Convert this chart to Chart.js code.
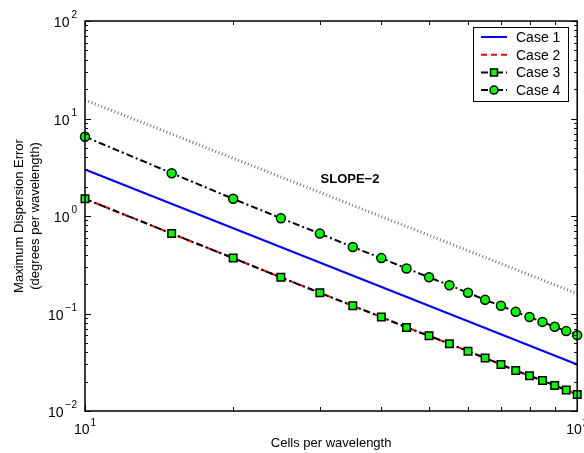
<!DOCTYPE html>
<html lang="en">
<head>
  <meta charset="UTF-8">
  <title>Dispersion Error</title>
  <style>
    body { margin: 0; padding: 0; background-color: #fff; }
    #chart { display: block; }
  </style>
</head>
<body>
  <canvas id="chart" width="584" height="453"></canvas>

  <script src="https://cdn.jsdelivr.net/npm/chart.js"></script>
  <script>
    // Cells per wavelength (x) and error values (y)
    const cells = [10, 15, 20, 25, 30, 35, 40, 45, 50, 55, 60, 65, 70, 75, 80, 85, 90, 95, 100];
    const case1X = [10, 100];
    const case1Y = [3.0, 0.030];
    const case2Y = [1.5, 0.66, 0.37, 0.235, 0.163, 0.12, 0.092, 0.072, 0.059, 0.049, 0.041, 0.035, 0.030, 0.026, 0.023, 0.0205, 0.0183, 0.0164, 0.0148];
    const case3Y = [1.5, 0.66, 0.37, 0.235, 0.163, 0.12, 0.092, 0.072, 0.059, 0.049, 0.041, 0.035, 0.030, 0.026, 0.023, 0.0205, 0.0183, 0.0164, 0.0148];
    const case4Y = [6.5, 2.75, 1.5, 0.95, 0.66, 0.48, 0.37, 0.29, 0.235, 0.195, 0.163, 0.138, 0.12, 0.104, 0.092, 0.082, 0.073, 0.066, 0.060];
    const slopeX = [10, 100];
    const slopeY = [15.5, 0.16];

    const yTicks = [0.01, 0.1, 1, 10, 100];
    const yTickExp = ['\u22122', '\u22121', '0', '1', '2'];
    const xTicks = [10, 100];
    const xTickExp = ['1', '2'];

    const FONT = '"Liberation Sans", Arial, Helvetica, sans-serif';
    const GREEN = '#00ff00';

    function pts(xs, ys) {
      return xs.map((x, i) => ({ x: x, y: ys[i] }));
    }

    const legendItems = [
      { label: 'Case 1', color: '#0000ff', dash: [], marker: null },
      { label: 'Case 2', color: '#ff0000', dash: [6, 4], marker: null },
      { label: 'Case 3', color: '#000000', dash: [7, 3, 2, 3], marker: 'rect' },
      { label: 'Case 4', color: '#000000', dash: [7, 3, 2, 3], marker: 'circle' }
    ];

    // draws the box, inward ticks, tick labels, axis titles, annotation and legend
    const matlabAxes = {
      id: 'matlabAxes',
      afterDraw(chart) {
        const ctx = chart.ctx;
        const a = chart.chartArea;
        const xs = chart.scales.x;
        const ys = chart.scales.y;
        ctx.save();
        ctx.strokeStyle = '#000';
        ctx.lineWidth = 1;
        ctx.setLineDash([]);

        // y ticks (major + minor) on left and right
        ctx.beginPath();
        for (let d = 0; d < yTicks.length; d++) {
          const base = yTicks[d];
          for (let m = 1; m <= 9; m++) {
            const v = base * m;
            if (v > 100.0001) break;
            const py = Math.round(ys.getPixelForValue(v)) + 0.5;
            const len = m === 1 ? 6 : 3;
            ctx.moveTo(a.left, py); ctx.lineTo(a.left + len, py);
            ctx.moveTo(a.right, py); ctx.lineTo(a.right - len, py);
          }
        }
        // x ticks
        for (let m = 1; m <= 10; m++) {
          const px = Math.round(xs.getPixelForValue(10 * m)) + 0.5;
          const len = (m === 1 || m === 10) ? 6 : 4;
          ctx.moveTo(px, a.bottom); ctx.lineTo(px, a.bottom - len);
          ctx.moveTo(px, a.top); ctx.lineTo(px, a.top + len);
        }
        ctx.stroke();

        // box
        ctx.lineWidth = 1.5;
        ctx.strokeRect(a.left, a.top, a.right - a.left, a.bottom - a.top);

        // y tick labels
        ctx.fillStyle = '#000';
        ctx.textBaseline = 'alphabetic';
        ctx.textAlign = 'left';
        yTicks.forEach((v, i) => {
          const py = ys.getPixelForValue(v);
          ctx.font = '10px ' + FONT;
          const ew = ctx.measureText(yTickExp[i]).width;
          ctx.font = '14px ' + FONT;
          const bw = ctx.measureText('10').width;
          const right = a.left - 8;
          ctx.fillText('10', right - ew - 2 - bw, py + 6);
          ctx.font = '10px ' + FONT;
          ctx.fillText(yTickExp[i], right - ew, py - 3);
        });

        // x tick labels
        xTicks.forEach((v, i) => {
          const px = xs.getPixelForValue(v);
          ctx.font = '10px ' + FONT;
          const ew = ctx.measureText(xTickExp[i]).width;
          ctx.font = '14px ' + FONT;
          const bw = ctx.measureText('10').width;
          const left = px - (bw + ew + 1) / 2;
          ctx.fillText('10', left, a.bottom + 23);
          ctx.font = '10px ' + FONT;
          ctx.fillText(xTickExp[i], left + bw + 1, a.bottom + 15);
        });

        // axis titles
        ctx.font = '13px ' + FONT;
        ctx.textAlign = 'center';
        ctx.fillText('Cells per wavelength', (a.left + a.right) / 2, a.bottom + 36);
        ctx.save();
        ctx.translate(23, (a.top + a.bottom) / 2);
        ctx.rotate(-Math.PI / 2);
        ctx.fillText('Maximum Dispersion Error', 0, 0);
        ctx.fillText('(degrees per wavelength)', 0, 16);
        ctx.restore();

        // annotation
        ctx.font = 'bold 13px ' + FONT;
        ctx.textAlign = 'center';
        ctx.fillText('SLOPE\u22122', 350, 183);

        // legend
        const lx = 473, ly = 27, lw = 95, lh = 74;
        ctx.fillStyle = '#fff';
        ctx.fillRect(lx, ly, lw, lh);
        ctx.lineWidth = 1;
        ctx.strokeStyle = '#000';
        ctx.strokeRect(lx + 0.5, ly + 0.5, lw, lh);
        legendItems.forEach((it, i) => {
          const cy = ly + 10 + i * 17.7;
          ctx.strokeStyle = it.color;
          ctx.lineWidth = 2;
          ctx.setLineDash(it.dash);
          ctx.beginPath();
          ctx.moveTo(lx + 8, cy);
          ctx.lineTo(lx + 34, cy);
          ctx.stroke();
          ctx.setLineDash([]);
          if (it.marker) {
            ctx.fillStyle = GREEN;
            ctx.strokeStyle = '#000';
            ctx.lineWidth = 1.5;
            ctx.beginPath();
            if (it.marker === 'rect') ctx.rect(lx + 21 - 3.5, cy - 3.5, 7, 7);
            else ctx.arc(lx + 21, cy, 4, 0, Math.PI * 2);
            ctx.fill();
            ctx.stroke();
          }
          ctx.fillStyle = '#000';
          ctx.font = '14px ' + FONT;
          ctx.textAlign = 'left';
          ctx.fillText(it.label, lx + 43, cy + 5);
        });
        ctx.restore();
      }
    };

    new Chart(document.getElementById('chart'), {
      type: 'line',
      data: {
        datasets: [
          {
            label: 'Case 4', data: pts(cells, case4Y), order: 0,
            borderColor: '#000', borderWidth: 2, borderDash: [7, 3, 2, 3],
            pointStyle: 'circle', pointRadius: 4.5, pointBackgroundColor: GREEN,
            pointBorderColor: '#000', pointBorderWidth: 1.5
          },
          {
            label: 'Case 3', data: pts(cells, case3Y), order: 1,
            borderColor: '#000', borderWidth: 2, borderDash: [7, 3, 2, 3],
            pointStyle: 'rect', pointRadius: 5.3, pointBackgroundColor: GREEN,
            pointBorderColor: '#000', pointBorderWidth: 1.5
          },
          {
            label: 'Case 2', data: pts(cells, case2Y), order: 2,
            borderColor: '#ff0000', borderWidth: 2, borderDash: [6, 4], pointRadius: 0
          },
          {
            label: 'Case 1', data: pts(case1X, case1Y), order: 3,
            borderColor: '#0000ff', borderWidth: 2, pointRadius: 0
          },
          {
            label: 'Slope', data: pts(slopeX, slopeY), order: 4,
            borderColor: '#777777', borderWidth: 3, borderDash: [1, 2.5], pointRadius: 0
          }
        ]
      },
      options: {
        responsive: false,
        animation: false,
        clip: false,
        layout: { padding: { left: 85, right: 5, top: 21, bottom: 42 } },
        plugins: { legend: { display: false }, tooltip: { enabled: false } },
        elements: { line: { tension: 0, fill: false } },
        scales: {
          x: { type: 'logarithmic', min: 10, max: 100, display: false },
          y: { type: 'logarithmic', min: 0.01, max: 100, display: false }
        }
      },
      plugins: [matlabAxes]
    });
  </script>
</body>
</html>
